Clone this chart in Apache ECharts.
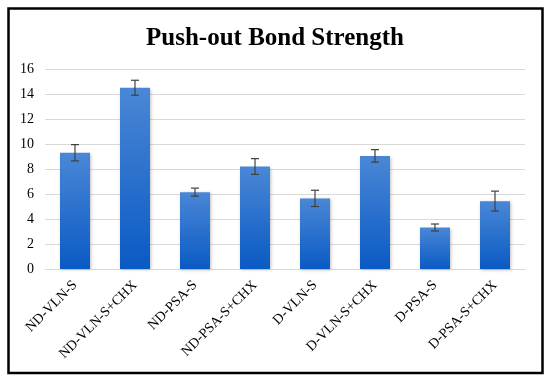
<!DOCTYPE html>
<html><head><meta charset="utf-8">
<script src="https://cdn.jsdelivr.net/npm/echarts@6/dist/echarts.min.js"></script>
<style>html,body{margin:0;padding:0;background:#fff}#c{width:550px;height:381px}</style>
</head><body><div id="c"></div>
<script>
const categories = ["ND-VLN-S","ND-VLN-S+CHX","ND-PSA-S","ND-PSA-S+CHX","D-VLN-S","D-VLN-S+CHX","D-PSA-S","D-PSA-S+CHX"];
const values = [9.3, 14.5, 6.15, 8.2, 5.65, 9.05, 3.32, 5.43];
const errors = [0.65, 0.6, 0.32, 0.63, 0.65, 0.5, 0.28, 0.8];
const yTicks = [0, 2, 4, 6, 8, 10, 12, 14, 16];

const chart = echarts.init(document.getElementById('c'));
const serif = '"Liberation Serif", "Times New Roman", serif';
chart.setOption({
  animation: false,
  title: {
    text: 'Push-out Bond Strength', left: 'center', top: 21,
    textStyle: { fontFamily: serif, fontWeight: 'bold', fontSize: 25, color: '#000' }
  },
  graphic: [{
    type: 'rect', shape: { x: 8.5, y: 8.5, width: 534, height: 364.5 },
    style: { fill: 'none', stroke: '#000', lineWidth: 2.5 }, z: 100
  }],
  grid: { left: 45, right: 25, top: 69, bottom: 112, containLabel: false },
  xAxis: {
    type: 'category', data: categories,
    axisTick: { show: false },
    axisLine: { lineStyle: { color: '#d9d9d9' } },
    axisLabel: { rotate: 45, fontFamily: serif, fontSize: 14, color: '#000', margin: 14, interval: 0 }
  },
  yAxis: {
    type: 'value', min: 0, max: 16, interval: 2,
    axisLabel: { fontFamily: serif, fontSize: 14, color: '#000', margin: 11,
      formatter: v => yTicks.includes(v) ? String(v) : '' },
    splitLine: { lineStyle: { color: '#d9d9d9' } },
    axisLine: { show: false }, axisTick: { show: false }
  },
  series: [{
    type: 'bar', data: values, barWidth: '50%',
    itemStyle: {
      color: new echarts.graphic.LinearGradient(0, 0, 0, 1, [
        { offset: 0, color: '#4a87d6' }, { offset: 1, color: '#0a5ac4' }
      ]),
      shadowColor: 'rgba(0,0,0,0.25)', shadowBlur: 3, shadowOffsetX: 1, shadowOffsetY: 1
    }
  }, {
    type: 'custom', z: 10,
    data: values.map((v, i) => [i, v - errors[i], v + errors[i]]),
    renderItem: (params, api) => {
      const lo = api.coord([api.value(0), api.value(1)]);
      const hi = api.coord([api.value(0), api.value(2)]);
      const w = 4;
      const st = { stroke: '#404040', lineWidth: 1.2 };
      return { type: 'group', children: [
        { type: 'line', shape: { x1: lo[0], y1: lo[1], x2: hi[0], y2: hi[1] }, style: st },
        { type: 'line', shape: { x1: lo[0]-w, y1: lo[1], x2: lo[0]+w, y2: lo[1] }, style: st },
        { type: 'line', shape: { x1: hi[0]-w, y1: hi[1], x2: hi[0]+w, y2: hi[1] }, style: st }
      ]};
    }
  }]
});
</script></body></html>
